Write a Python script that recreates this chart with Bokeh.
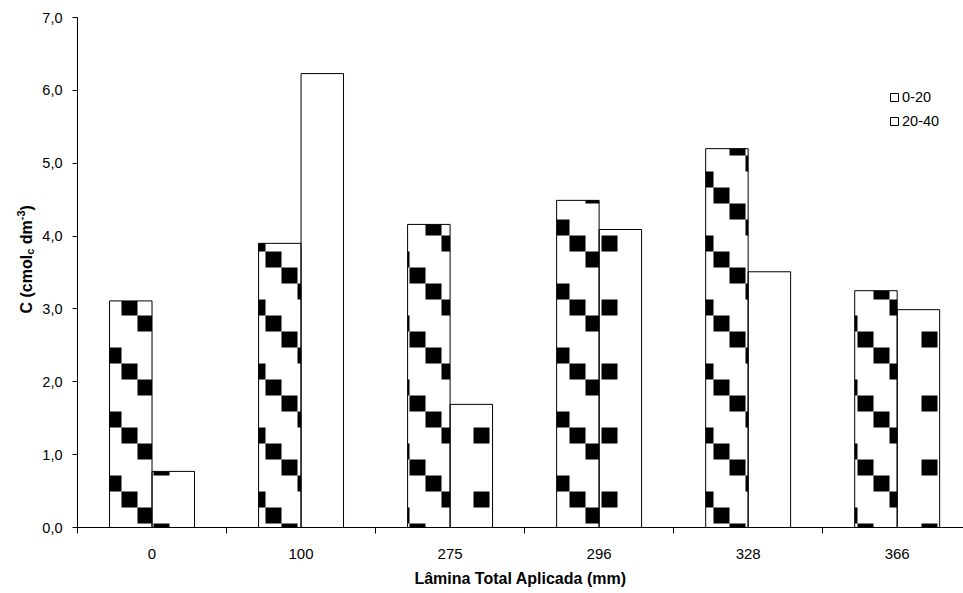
import math
import numpy as np
from bokeh.plotting import figure
from bokeh.layouts import row
from bokeh.models import (Range1d, FixedTicker, CustomJSTickFormatter, Legend, LegendItem,
                          ColumnDataSource)
from bokeh.core.properties import value
from bokeh.embed import file_html
from bokeh.resources import INLINE

# ---------------- data ----------------
categories = ["0", "100", "275", "296", "328", "366"]
depth_0_20 = [3.11, 3.90, 4.16, 4.49, 5.20, 3.25]
depth_20_40 = [0.77, 6.23, 1.69, 4.09, 3.51, 2.99]
series_names = ["0-20", "20-40"]
y_ticks = [0, 1, 2, 3, 4, 5, 6, 7]
x_title = "Lâmina Total Aplicada (mm)"
y_title_parts = [("C (cmol", "normal"), ("c", "sub"), (" dm", "normal"), ("-3", "sup"), (")", "normal")]

FONT = "Liberation Sans"

# ---------------- layout constants (pixels) ----------------
W, H = 963, 593
LW = 36                           # width of the strip holding the y title
FL, FT, FB = 77, 17, 527          # frame left (page) / top / bottom
X0, X1 = -0.5, 5.445
Y0, Y1 = 0.0, 7.0
PX_X = (W - FL) / (X1 - X0)       # pixels per category unit
PX_Y = (FB - FT) / (Y1 - Y0)      # pixels per value unit

def px_to_x(px):
    return X0 + (px - FL) / PX_X

def px_to_y(py):
    return Y0 + (FB - py) / PX_Y

y_range = Range1d(Y0, Y1)
p = figure(width=W - LW, height=H, output_backend="svg", toolbar_location=None,
           x_range=Range1d(X0, X1), y_range=y_range,
           min_border_left=FL - LW, min_border_right=0, min_border_top=FT, min_border_bottom=H - FB)
p.outline_line_color = None
p.xgrid.grid_line_color = None
p.ygrid.grid_line_color = None
p.background_fill_color = "white"
p.border_fill_color = "white"

idx = np.arange(len(categories))
bw = 0.285
xa_pos = idx - bw / 2
xb_pos = idx + bw / 2
src = ColumnDataSource(dict(xa=xa_pos, xb=xb_pos, a=depth_0_20, b=depth_20_40))

# ---------------- pattern squares (texture, aligned to a 16px lattice) ----------------
CELL = 16
cw, ch = CELL / PX_X, CELL / PX_Y
ox = px_to_x(9)
oy = px_to_y(11)

def in_a(c, r):
    return (c - r) % 4 == 1

def in_b(c, r):
    return (c % 8 == 1 and r % 4 == 0) or (c % 8 == 5 and r % 4 == 2)

def squares(xcenters, tops, rule):
    L, R, B, T = [], [], [], []
    for xc, top in zip(xcenters, tops):
        bx0, bx1 = xc - bw / 2, xc + bw / 2
        c0, c1 = int(math.floor((bx0 - ox) / cw)), int(math.floor((bx1 - ox) / cw))
        r0, r1 = int(math.floor((oy - top) / ch)), int(math.floor((oy - 0) / ch))
        for c in range(c0, c1 + 1):
            for r in range(r0, r1 + 1):
                if not rule(c, r):
                    continue
                l, rr = ox + c * cw, ox + (c + 1) * cw
                t, b = oy - r * ch, oy - (r + 1) * ch
                l, rr = max(l, bx0), min(rr, bx1)
                t, b = min(t, top), max(b, 0.0)
                if rr > l and t > b:
                    L.append(l); R.append(rr); B.append(b); T.append(t)
    return dict(left=L, right=R, bottom=B, top=T)

sq_a = squares(xa_pos, depth_0_20, in_a)
sq_b = squares(xb_pos, depth_20_40, in_b)

# bars: white fill, texture, outline on top
fa = p.vbar(x="xa", top="a", bottom=0, width=bw, source=src, fill_color="white", line_color=None)
fb = p.vbar(x="xb", top="b", bottom=0, width=bw, source=src, fill_color="white", line_color=None)
p.quad(source=ColumnDataSource(sq_a), left="left", right="right", bottom="bottom", top="top",
       fill_color="black", line_color=None)
p.quad(source=ColumnDataSource(sq_b), left="left", right="right", bottom="bottom", top="top",
       fill_color="black", line_color=None)
oa = p.vbar(x="xa", top="a", bottom=0, width=bw, source=src, fill_color=None,
            line_color="black", line_width=1)
ob = p.vbar(x="xb", top="b", bottom=0, width=bw, source=src, fill_color=None,
            line_color="black", line_width=1)

legend = Legend(items=[LegendItem(label=series_names[0], renderers=[fa, oa]),
                       LegendItem(label=series_names[1], renderers=[fb, ob])],
                location=(812, 396), padding=0, margin=0, spacing=4,
                label_height=20, glyph_height=10, glyph_width=10, label_standoff=3,
                border_line_color=None, background_fill_alpha=0,
                label_text_font=FONT, label_text_font_size="14.5px", label_text_color="black")
p.add_layout(legend)

# ---------------- axes ----------------
xa = p.xaxis[0]
xa.ticker = FixedTicker(ticks=[int(i) for i in idx], minor_ticks=[i + 0.5 for i in range(-1, 6)])
xa.major_label_overrides = {int(i): c for i, c in zip(idx, categories)}
xa.major_tick_line_color = None
xa.major_tick_out = 0
xa.major_tick_in = 0
xa.minor_tick_line_color = "black"
xa.minor_tick_out = 6
xa.minor_tick_in = 0
xa.major_label_standoff = 15
xa.major_label_text_font = FONT
xa.major_label_text_font_size = "15px"
xa.major_label_text_color = "black"
xa.axis_line_color = "black"
xa.axis_label = x_title
xa.axis_label_text_font = FONT
xa.axis_label_text_font_size = "16px"
xa.axis_label_text_font_style = "bold"
xa.axis_label_text_color = "black"
xa.axis_label_standoff = 8

ya = p.yaxis[0]
ya.ticker = FixedTicker(ticks=y_ticks, minor_ticks=[])
ya.formatter = CustomJSTickFormatter(code="return tick.toFixed(1).replace('.', ',');")
ya.major_tick_out = 5
ya.major_tick_in = 0
ya.minor_tick_line_color = None
ya.major_tick_line_color = "black"
ya.axis_line_color = "black"
ya.major_label_standoff = 10
ya.major_label_text_font = FONT
ya.major_label_text_font_size = "14.5px"
ya.major_label_text_color = "black"

# ---------------- rotated y title (own strip, with subscript / superscript) ----------------
ARIAL_BOLD = {" ": 278, "(": 333, ")": 333, "C": 722, "c": 556, "m": 889, "o": 611,
              "l": 278, "d": 611, "-": 333, "3": 556}
def text_width(s, size):
    return sum(ARIAL_BOLD[ch] for ch in s) * size / 1000.0

base_px = 26
pos_py = 313.0
tx, ty, tt, ts = [], [], [], []
for txt, kind in y_title_parts:
    size = 16 if kind == "normal" else 11
    dx = {"normal": 0, "sub": 3, "sup": -6}[kind]
    lead = len(txt) - len(txt.lstrip(" "))
    pos_py -= text_width(" " * lead, size)      # leading spaces are not kept in SVG text
    txt = txt.lstrip(" ")
    tx.append(base_px + dx)
    ty.append(px_to_y(pos_py))
    tt.append(txt)
    ts.append(f"{size}px")
    pos_py -= text_width(txt, size)

pl = figure(width=LW, height=H, output_backend="svg", toolbar_location=None,
            x_range=Range1d(0, LW), y_range=y_range,
            x_axis_location=None, y_axis_location=None,
            min_border_left=0, min_border_right=0, min_border_top=FT, min_border_bottom=H - FB)
pl.outline_line_color = None
pl.xgrid.grid_line_color = None
pl.ygrid.grid_line_color = None
pl.background_fill_color = "white"
pl.border_fill_color = "white"
pl.text(x="x", y="y", text="text", text_font_size="size",
        source=ColumnDataSource(dict(x=tx, y=ty, text=tt, size=ts)),
        angle=math.pi / 2, text_align="left", text_baseline="alphabetic",
        text_font=value(FONT), text_font_style="bold", text_color="black")

open("out.html", "w").write(file_html(row(pl, p), INLINE))
